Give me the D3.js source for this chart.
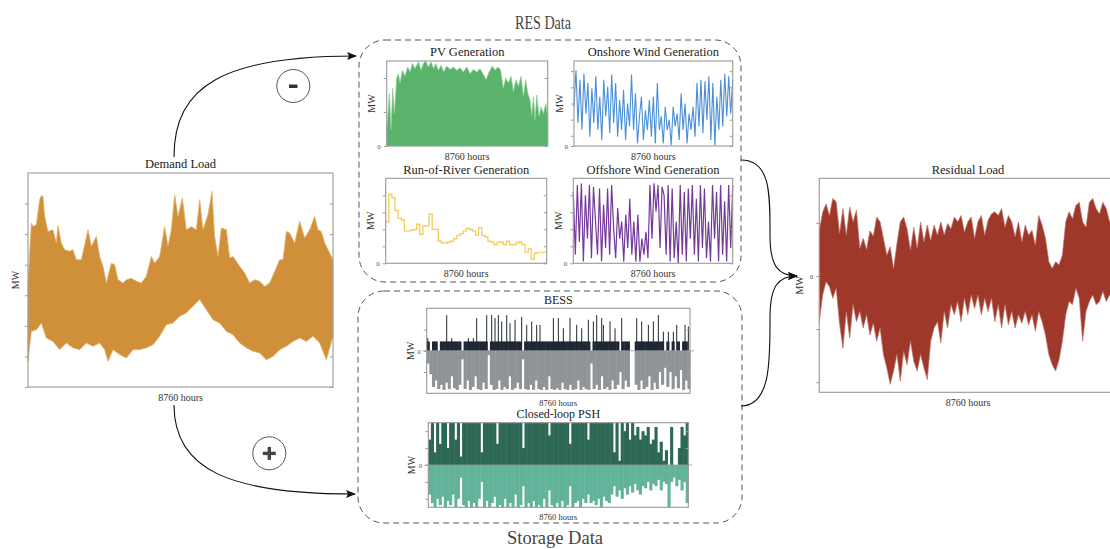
<!DOCTYPE html>
<html>
<head>
<meta charset="utf-8">
<script src="https://cdn.jsdelivr.net/npm/d3@7"></script>
<style>
  body { margin: 0; background: #fff; }
  svg text { font-family: "Liberation Serif", "DejaVu Serif", serif; }
</style>
</head>
<body>
<svg width="1110" height="549"></svg>
<script>
var HOURS = 8760;

// demand load, upper / lower envelope [hour, value]
var demandUpper = [[0,34.0],[96,53.6],[144,52.5],[239,53.1],[335,61.3],[383,62.6],[431,62.3],[479,55.8],[574,50.9],[718,51.4],[814,47.1],[862,52.8],[957,47.1],[1053,44.9],[1197,44.4],[1292,44.9],[1388,41.6],[1532,41.6],[1723,51.4],[1819,46.0],[1963,49.3],[2058,42.7],[2154,39.5],[2250,34.0],[2394,40.5],[2489,40.0],[2585,35.1],[2729,34.0],[2824,35.1],[2968,35.6],[3112,34.6],[3255,34.0],[3399,36.2],[3542,42.7],[3638,40.5],[3782,42.7],[3925,52.5],[4021,46.0],[4117,51.4],[4213,62.9],[4308,55.8],[4433,61.8],[4548,51.4],[4691,52.5],[4835,51.4],[4931,61.3],[5026,51.4],[5170,56.4],[5285,64.0],[5361,49.3],[5457,42.7],[5553,52.0],[5697,51.4],[5792,42.2],[5888,42.7],[5984,41.1],[6079,39.5],[6223,37.3],[6367,34.0],[6510,35.1],[6654,34.6],[6798,32.9],[6941,34.0],[7085,37.8],[7228,41.6],[7324,41.6],[7420,50.9],[7516,50.4],[7659,47.1],[7803,54.2],[7946,48.7],[8090,51.4],[8234,55.8],[8329,51.4],[8425,50.9],[8521,47.1],[8665,43.8],[8760,41.6]];
var demandLower = [[0,8.4],[96,18.2],[239,18.7],[383,20.9],[527,16.0],[718,14.9],[910,12.2],[1101,14.4],[1292,12.8],[1484,12.2],[1675,14.4],[1867,13.3],[2058,14.4],[2202,12.2],[2298,8.4],[2441,12.2],[2633,10.6],[2824,9.5],[3016,12.2],[3207,12.2],[3399,12.8],[3590,13.8],[3782,16.6],[3973,20.4],[4165,20.9],[4356,23.1],[4548,24.2],[4739,26.4],[4931,28.6],[5122,25.3],[5314,22.0],[5505,20.9],[5697,18.2],[5888,17.1],[6079,14.4],[6271,12.8],[6462,11.7],[6654,11.1],[6845,8.9],[7037,10.0],[7228,12.2],[7420,13.3],[7611,14.9],[7803,16.0],[7994,14.9],[8186,16.6],[8377,14.4],[8569,8.9],[8760,16.6]];
var demandTicks = [0, 10, 20, 30, 40, 50, 60];

// PV generation upper envelope [hour, value]
var pvUpper = [[0,0.19],[36,0.27],[145,0.62],[236,0.19],[327,0.68],[417,0.38],[544,0.80],[635,0.85],[726,0.74],[853,0.89],[998,0.82],[1143,0.93],[1270,0.87],[1397,0.97],[1542,0.91],[1723,0.99],[1868,0.89],[1995,0.97],[2122,1.0],[2268,0.93],[2413,0.99],[2558,0.91],[2667,0.97],[2812,0.89],[2957,0.95],[3102,0.87],[3265,0.94],[3447,0.90],[3628,0.93],[3809,0.89],[3991,0.92],[4172,0.87],[4354,0.93],[4535,0.85],[4716,0.90],[4898,0.87],[5079,0.91],[5261,0.84],[5406,0.78],[5569,0.87],[5750,0.94],[5896,0.89],[6041,0.93],[6186,0.90],[6349,0.68],[6476,0.80],[6621,0.74],[6766,0.82],[6893,0.64],[7038,0.78],[7165,0.70],[7310,0.82],[7437,0.58],[7564,0.78],[7673,0.62],[7800,0.54],[7891,0.36],[7982,0.58],[8072,0.31],[8163,0.60],[8290,0.35],[8399,0.46],[8526,0.38],[8653,0.50],[8760,0.35]];
var pvTicks = [0, 0.4, 0.8];

// onshore wind, evenly spaced over the year
var onshore = [0.46,0.89,0.27,0.78,0.19,0.85,0.38,0.74,0.11,0.68,0.27,0.82,0.19,0.58,0.07,0.78,0.35,0.70,0.15,0.84,0.27,0.74,0.11,0.54,0.19,0.66,0.07,0.50,0.23,0.84,0.19,0.62,0.03,0.35,0.58,0.07,0.42,0.19,0.54,0.11,0.58,0.03,0.74,0.19,0.35,0.03,0.46,0.19,0.31,0.01,0.46,0.23,0.38,0.07,0.62,0.19,0.50,0.03,0.38,0.19,0.46,0.11,0.74,0.23,0.78,0.15,0.76,0.31,0.82,0.07,0.74,0.01,0.58,0.19,0.78,0.23,0.85,0.35,0.82,0.38,0.78];
var onshoreTicks = [0, 0.12, 0.31, 0.5, 0.69, 0.88];

// run-of-river, weekly values
var ror = [0.49,0.81,0.77,0.62,0.53,0.51,0.38,0.38,0.39,0.40,0.46,0.34,0.44,0.44,0.58,0.40,0.40,0.26,0.24,0.24,0.25,0.26,0.29,0.33,0.35,0.38,0.41,0.40,0.38,0.33,0.42,0.33,0.31,0.26,0.25,0.22,0.25,0.25,0.22,0.26,0.22,0.22,0.24,0.25,0.22,0.13,0.17,0.05,0.12,0.13,0.13,0.13];
var rorTicks = [0, 0.2, 0.4, 0.6, 0.8];

// offshore wind, evenly spaced over the year
var offshore = [0.84,0.10,0.92,0.25,0.94,0.02,0.80,0.29,0.92,0.06,0.90,0.49,0.10,0.88,0.02,0.69,0.18,0.88,0.10,0.92,0.41,0.06,0.65,0.29,0.49,0.02,0.57,0.18,0.76,0.10,0.49,0.02,0.57,0.02,0.29,0.10,0.37,0.06,0.92,0.29,0.94,0.61,0.92,0.18,0.90,0.80,0.10,0.92,0.02,0.88,0.06,0.49,0.0,0.92,0.10,0.84,0.02,0.88,0.29,0.92,0.10,0.76,0.02,0.92,0.18,0.88,0.06,0.49,0.02,0.92,0.29,0.84,0.02,0.92,0.10,0.73,0.02,0.92,0.18,0.92];
var offshoreTicks = [0, 0.2, 0.4, 0.6, 0.8];

// BESS, 100 bins: charging level, discharging level, peaks [hour, value]
var bessCharge = [0.22,0,0.22,0.22,0,0.22,0.22,0.22,0.22,0.22,0.22,0.22,0.22,0,0.22,0.22,0.22,0.22,0.22,0.22,0.22,0.22,0.22,0,0.22,0.22,0.22,0.22,0.22,0.22,0.22,0.22,0.22,0.22,0.22,0.22,0,0.22,0.22,0.22,0.22,0.22,0.22,0.22,0.22,0.22,0.22,0.22,0.22,0.22,0.22,0.22,0.22,0.22,0.22,0.22,0.22,0.22,0.22,0.22,0.22,0.22,0,0.22,0.22,0.22,0.22,0.22,0.22,0.22,0.22,0.22,0.22,0,0.22,0.22,0.22,0,0,0.22,0.22,0.22,0.22,0.22,0.22,0.22,0.22,0.22,0.22,0.22,0,0.22,0,0.22,0,0.22,0,0.22,0.22,0];
var bessDischarge = [-0.3,-0.55,-0.85,-0.7,-0.9,-0.8,-0.92,-0.75,-0.9,-0.6,-0.88,-0.92,-0.8,-0.2,-0.9,-0.7,-0.92,-0.85,-0.6,-0.9,-0.92,-0.75,-0.9,-0.1,-0.8,-0.92,-0.9,-0.7,-0.92,-0.85,-0.9,-0.6,-0.92,-0.88,-0.75,-0.9,-0.2,-0.9,-0.92,-0.8,-0.92,-0.7,-0.9,-0.92,-0.85,-0.92,-0.6,-0.9,-0.92,-0.88,-0.92,-0.75,-0.9,-0.92,-0.8,-0.92,-0.9,-0.7,-0.92,-0.85,-0.9,-0.92,-0.3,-0.9,-0.8,-0.92,-0.6,-0.9,-0.85,-0.92,-0.7,-0.9,-0.8,-0.5,-0.9,-0.7,-0.85,0,0,-0.8,-0.92,-0.7,-0.9,-0.85,-0.6,-0.92,-0.75,-0.9,-0.5,-0.8,-0.4,-0.85,-0.5,-0.9,-0.6,-0.88,-0.45,-0.92,-0.7,-0.9];
var bessPeaks = [[33,0.30],[665,0.84],[832,0.30],[1386,0.30],[1552,0.30],[1663,0.77],[1996,0.84],[2162,0.84],[2273,0.77],[2384,0.84],[2495,0.69],[2662,0.84],[2772,0.65],[2939,0.73],[3160,0.80],[3327,0.61],[3493,0.69],[3659,0.61],[3770,0.61],[4214,0.77],[4380,0.77],[4547,0.53],[4768,0.77],[4990,0.61],[5157,0.53],[5378,0.73],[5545,0.69],[5656,0.84],[5822,0.77],[5877,0.61],[6099,0.69],[6266,0.53],[6488,0.77],[6987,0.77],[7153,0.69],[7375,0.61],[7541,0.69],[7707,0.84],[7874,0.45],[8040,0.45],[8206,0.45],[8318,0.61],[8595,0.61],[8705,0.57]];
var bessTicks = [-0.5, 0, 0.5];

// closed-loop PSH, 100 bins: generating (+) and pumping (-)
var pshGen = [0.6,1,0.3,1,0.5,1,1,0.4,1,1,0.6,1,0.2,1,1,1,1,1,1,1,0.3,1,1,1,1,1,0.5,1,1,1,1,1,1,1,1,1,0.4,1,1,1,1,1,1,1,1,1,0.7,1,1,1,1,1,1,1,0.5,1,1,1,1,1,1,0.6,1,1,1,1,1,1,1,1,1,0.3,1,0.1,1,0.8,1,0.6,1,0.7,0.9,0.6,0.8,0.7,0.9,0.5,0.6,0.9,0.3,0.55,0.1,0.35,0,0.9,0,0,0.4,0.9,0.7,1];
var pshPump = [-0.7,-0.9,-1,-0.8,-0.95,-0.75,-1,-0.85,-0.95,-0.7,-1,-0.8,-0.3,-0.95,-1,-0.85,-1,-0.9,-1,-0.8,-0.4,-1,-0.85,-1,-0.9,-0.75,-1,-0.95,-1,-0.8,-1,-0.9,-1,-0.7,-1,-0.95,-0.5,-1,-0.9,-1,-0.85,-1,-0.95,-1,-0.8,-1,-0.6,-0.95,-1,-0.9,-1,-0.85,-1,-0.95,-0.5,-1,-0.9,-0.85,-1,-0.8,-0.9,-0.7,-0.9,-0.85,-0.95,-0.8,-1,-0.75,-0.85,-0.9,-0.7,-0.5,-0.75,-0.6,-0.8,-0.55,-0.7,-0.5,-0.65,-0.45,-0.6,-0.7,-0.5,-0.55,-0.4,-0.6,-0.45,-0.5,-0.35,-0.6,-0.4,-0.45,-1,-0.4,-0.3,-0.5,-0.35,-0.6,-0.4,-0.9];
var pshTicks = [-0.8, -0.4, 0, 0.4, 0.8];

// residual load envelope, evenly spaced over the year
var residualUpper = [0.86,1.2,1.36,1.14,1.46,1.4,0.8,1.27,0.77,1.30,1.02,1.24,0.52,0.71,0.5,0.85,0.75,1.11,1.02,0.71,0.39,0.55,0.14,0.61,1.02,1.11,0.89,0.49,0.92,0.52,1.02,0.64,0.96,0.67,0.96,0.77,1.02,0.77,0.99,0.89,1.11,1.02,1.14,0.83,1.02,1.11,0.71,1.02,1.14,0.77,1.05,1.17,1.21,1.14,1.27,0.92,1.14,1.02,0.74,1.02,0.64,0.96,0.77,0.86,0.58,1.14,0.96,0.71,0.27,0.14,0.27,0.21,0.39,1.02,1.21,1.08,1.33,1.39,1.02,0.92,1.39,1.46,1.27,1.17,1.39,1.27,1.02,1.21];
var residualLower = [-0.86,-0.36,-0.11,-0.2,-0.42,-0.23,-0.9,-1.36,-0.67,-1.17,-0.54,-0.86,-0.67,-0.98,-0.73,-1.11,-0.89,-1.23,-0.98,-1.48,-1.73,-2.04,-1.79,-1.48,-1.98,-1.42,-1.67,-1.23,-1.61,-1.79,-1.48,-1.73,-1.95,-1.23,-0.98,-0.86,-1.26,-0.67,-0.98,-0.54,-0.73,-0.48,-0.86,-0.42,-0.73,-0.36,-0.61,-0.36,-0.73,-0.42,-0.67,-0.42,-0.86,-0.54,-0.98,-0.54,-0.92,-0.67,-0.98,-0.73,-0.89,-0.67,-0.92,-0.73,-1.04,-0.67,-0.86,-1.11,-1.48,-1.67,-1.79,-1.58,-1.23,-0.73,-0.48,-0.54,-0.23,-0.42,-1.23,-0.67,-0.48,-0.36,-0.54,-0.48,-0.29,-0.48,-0.36,-0.48];
var residualTicks = [-2, -1, 0, 1];

var svg = d3.select("svg");

svg.append("defs").append("marker")
    .attr("id", "arrow")
    .attr("viewBox", "0 0 10 8")
    .attr("refX", 9).attr("refY", 4)
    .attr("markerWidth", 10).attr("markerHeight", 8)
    .attr("markerUnits", "userSpaceOnUse")
    .attr("orient", "auto")
    .append("path").attr("d", "M0,0L10,4L0,8L2,4Z").attr("fill", "#111");

function panel(o) {
    var x = d3.scaleLinear().domain([0, HOURS]).range([o.left, o.right]);
    var y = d3.scaleLinear().domain(o.yDomain).range([o.bottom, o.top]);
    var g = svg.append("g");

    o.draw(g.append("g"), x, y);

    if (o.zeroLine) {
        g.append("line")
            .attr("x1", o.left - 4).attr("x2", o.right + 4)
            .attr("y1", y(0)).attr("y2", y(0))
            .attr("stroke", "#999").attr("stroke-width", 0.8);
    }

    var la = g.append("g")
        .attr("transform", "translate(" + o.left + ",0)")
        .call(d3.axisLeft(y).tickValues(o.ticks).tickSize(3).tickPadding(3)
            .tickFormat(function (d) { return d === 0 && o.zeroLabel ? "0" : ""; }));
    la.select(".domain").remove();
    la.selectAll("line").attr("stroke", "#999");
    la.selectAll("text").attr("font-size", 7).attr("fill", "#555")
        .style("font-family", "'Liberation Serif', serif");

    var ra = g.append("g")
        .attr("transform", "translate(" + o.right + ",0)")
        .call(d3.axisLeft(y).tickValues(o.ticks).tickSize(-3).tickFormat(""));
    ra.select(".domain").remove();
    ra.selectAll("line").attr("stroke", "#999").attr("transform", "translate(-3,0)");

    g.append("rect")
        .attr("x", o.left).attr("y", o.top)
        .attr("width", o.right - o.left).attr("height", o.bottom - o.top)
        .attr("fill", "none").attr("stroke", "#999").attr("stroke-width", 1.1);

    var cx = o.titleX || (o.left + o.right) / 2;
    g.append("text")
        .attr("x", cx).attr("y", o.top - 9).attr("dy", "0.35em")
        .attr("text-anchor", "middle").attr("font-size", o.titleSize || 12.5)
        .attr("fill", "#222").text(o.title);
    g.append("text")
        .attr("x", cx).attr("y", o.bottom + (o.xlabelGap || 10.5)).attr("dy", "0.35em")
        .attr("text-anchor", "middle").attr("font-size", o.xlabelSize || 10)
        .attr("fill", "#333").text("8760 hours");
    var mx = o.left - (o.mwOffset || 15), my = (o.top + o.bottom) / 2;
    g.append("text")
        .attr("transform", "translate(" + mx + "," + my + ") rotate(-90)")
        .attr("dy", "0.35em").attr("text-anchor", "middle")
        .attr("font-size", 10).attr("fill", "#333").text("MW");
}

function envelope(upper, lower, x, y) {
    var pts = upper.concat(lower.slice().reverse());
    return d3.line().x(function (d) { return x(d[0]); }).y(function (d) { return y(d[1]); })(pts) + "Z";
}

function even(arr) {
    return arr.map(function (v, i) { return [i / (arr.length - 1) * HOURS, v]; });
}

// Demand Load
panel({
    left: 28, right: 333, top: 173, bottom: 387,
    yDomain: [0, 70], ticks: demandTicks, title: "Demand Load", mwOffset: 13,
    draw: function (g, x, y) {
        g.append("path").attr("d", envelope(demandUpper, demandLower, x, y))
            .attr("fill", "#d0903a").attr("stroke", "#e2b26c").attr("stroke-width", 0.8);
    }
});

// PV
panel({
    left: 386.7, right: 547.7, top: 61, bottom: 146,
    yDomain: [0, 1], ticks: pvTicks, zeroLabel: true, title: "PV Generation",
    draw: function (g, x, y) {
        g.append("path").datum(pvUpper)
            .attr("d", d3.area().x(function (d) { return x(d[0]); }).y0(y(0)).y1(function (d) { return y(d[1]); }))
            .attr("fill", "#5ab36b").attr("stroke", "#8fcf9b").attr("stroke-width", 0.7);
    }
});

// Onshore wind
panel({
    left: 574, right: 732.7, top: 61, bottom: 146,
    yDomain: [0, 1], ticks: onshoreTicks, zeroLabel: true, title: "Onshore Wind Generation",
    draw: function (g, x, y) {
        g.append("path").datum(even(onshore))
            .attr("d", d3.line().x(function (d) { return x(d[0]); }).y(function (d) { return y(d[1]); }))
            .attr("fill", "none").attr("stroke", "#4a8fd8").attr("stroke-width", 1.1);
    }
});

// Run-of-river
panel({
    left: 385.7, right: 546.7, top: 178.3, bottom: 263.3,
    yDomain: [0, 1], ticks: rorTicks, zeroLabel: true, title: "Run-of-River Generation",
    draw: function (g, x, y) {
        var wk = HOURS / ror.length;
        var pts = ror.map(function (v, i) { return [i * wk, v]; });
        pts.push([HOURS, ror[ror.length - 1]]);
        g.append("path").datum(pts)
            .attr("d", d3.line().curve(d3.curveStepAfter).x(function (d) { return x(d[0]); }).y(function (d) { return y(d[1]); }))
            .attr("fill", "none").attr("stroke", "#f1c84a").attr("stroke-width", 1.2);
    }
});

// Offshore wind
panel({
    left: 573.3, right: 732.7, top: 178.3, bottom: 263.3,
    yDomain: [0, 1], ticks: offshoreTicks, zeroLabel: true, title: "Offshore Wind Generation",
    draw: function (g, x, y) {
        g.append("path").datum(even(offshore))
            .attr("d", d3.line().x(function (d) { return x(d[0]); }).y(function (d) { return y(d[1]); }))
            .attr("fill", "none").attr("stroke", "#743a9b").attr("stroke-width", 1.2);
    }
});

function bars(g, x, y, vals, color) {
    var w = HOURS / vals.length;
    g.selectAll(null).data(vals).enter().append("rect")
        .attr("x", function (d, i) { return x(i * w); })
        .attr("width", function (d, i) { return x((i + 1) * w) - x(i * w) + 0.5; })
        .attr("y", function (d) { return Math.min(y(d), y(0)); })
        .attr("height", function (d) { return Math.abs(y(d) - y(0)); })
        .attr("fill", color);
}

// BESS
panel({
    left: 426.7, right: 690, top: 308.3, bottom: 393.3,
    yDomain: [-1, 1], ticks: bessTicks, zeroLabel: true, zeroLine: true, title: "BESS",
    mwOffset: 16.5, titleSize: 12, xlabelSize: 8.5, xlabelGap: 10,
    draw: function (g, x, y) {
        bars(g, x, y, bessDischarge, "#8f9498");
        bars(g, x, y, bessCharge, "#1e2833");
        g.selectAll(null).data(bessPeaks).enter().append("line")
            .attr("x1", function (d) { return x(d[0]); }).attr("x2", function (d) { return x(d[0]); })
            .attr("y1", y(0)).attr("y2", function (d) { return y(d[1]); })
            .attr("stroke", "#1e2833").attr("stroke-width", 1);
    }
});

// Closed-loop PSH
panel({
    left: 428.3, right: 688.3, top: 422.7, bottom: 507.3,
    yDomain: [-1, 1], ticks: pshTicks, zeroLabel: true, zeroLine: true, title: "Closed-loop PSH",
    mwOffset: 16.5, titleSize: 12, xlabelSize: 8.5, xlabelGap: 10,
    draw: function (g, x, y) {
        bars(g, x, y, pshPump, "#63b39b");
        bars(g, x, y, pshGen, "#2d6755");
    }
});

// Residual load
panel({
    left: 819.3, right: 1113, top: 178.3, bottom: 392.3,
    yDomain: [-2.19, 1.84], ticks: residualTicks, zeroLabel: true, title: "Residual Load",
    titleX: 968, mwOffset: 20,
    draw: function (g, x, y) {
        g.append("path").attr("d", envelope(even(residualUpper), even(residualLower), x, y))
            .attr("fill", "#9d382b").attr("stroke", "#c0766c").attr("stroke-width", 0.7);
    }
});

// dashed group boxes
svg.append("rect").attr("x", 359).attr("y", 40).attr("width", 382).attr("height", 242)
    .attr("rx", 26).attr("fill", "none").attr("stroke", "#555").attr("stroke-width", 1)
    .attr("stroke-dasharray", "6,4");
svg.append("rect").attr("x", 358).attr("y", 291).attr("width", 384).attr("height", 232)
    .attr("rx", 26).attr("fill", "none").attr("stroke", "#555").attr("stroke-width", 1)
    .attr("stroke-dasharray", "6,4");

svg.append("text").attr("x", 543).attr("y", 23).attr("dy", "0.35em")
    .attr("text-anchor", "middle").attr("font-size", 18).attr("fill", "#444")
    .attr("textLength", 56).attr("lengthAdjust", "spacingAndGlyphs").text("RES Data");
svg.append("text").attr("x", 555).attr("y", 538).attr("dy", "0.35em")
    .attr("text-anchor", "middle").attr("font-size", 18.5).attr("fill", "#444").text("Storage Data");

// connectors
var conn = svg.append("g").attr("fill", "none").attr("stroke", "#111").attr("stroke-width", 1.1);
conn.append("path").attr("d", "M174,157C174,85 225,56 356,56").attr("marker-end", "url(#arrow)");
conn.append("path").attr("d", "M174,405C174,470 230,494 355,494").attr("marker-end", "url(#arrow)");
conn.append("path").attr("d", "M741,160C771,160 770,195 770,235C770,266 778,276 797,276").attr("marker-end", "url(#arrow)");
conn.append("path").attr("d", "M741,406C771,406 770,360 770,318C770,286 778,276 797,276").attr("marker-end", "url(#arrow)");

// operator circles
svg.append("circle").attr("cx", 293.3).attr("cy", 86).attr("r", 16.5)
    .attr("fill", "none").attr("stroke", "#555").attr("stroke-width", 1);
svg.append("rect").attr("x", 289).attr("y", 84.5).attr("width", 8.5).attr("height", 3.5).attr("fill", "#333");
svg.append("circle").attr("cx", 269.3).attr("cy", 453.3).attr("r", 16.5)
    .attr("fill", "none").attr("stroke", "#555").attr("stroke-width", 1);
svg.append("rect").attr("x", 262.8).attr("y", 451.7).attr("width", 13).attr("height", 3.4).attr("fill", "#444");
svg.append("rect").attr("x", 267.6).attr("y", 446.9).attr("width", 3.4).attr("height", 13).attr("fill", "#444");
</script>
</body>
</html>
